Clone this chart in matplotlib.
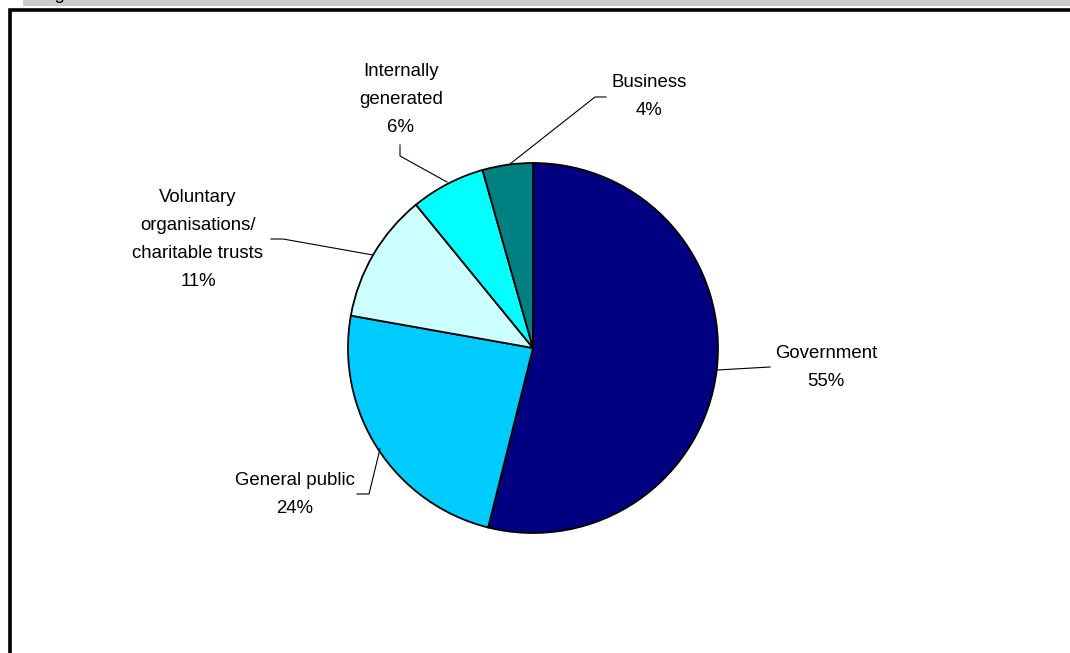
import matplotlib
matplotlib.use("Agg")
from matplotlib import pyplot as plt
from matplotlib.patches import Rectangle

# slice data, clockwise from 12 o'clock
sources = ["Government", "General public", "Voluntary organisations/ charitable trusts",
           "Internally generated", "Business"]
shares = [53.9, 23.9, 11.3, 6.5, 4.4]          # measured slice sizes
pct_labels = ["55%", "24%", "11%", "6%", "4%"]   # percentages as printed
colors = ["#000080", "#00CCFF", "#CCFFFF", "#00FFFF", "#008080"]
# how each label is wrapped in the chart
label_lines = [["Government"], ["General public"],
               ["Voluntary", "organisations/", "charitable trusts"],
               ["Internally", "generated"], ["Business"]]

W, H = 1070, 653
plt.rcParams['font.family'] = ['Liberation Sans', 'DejaVu Sans']
FS = 13.4

fig = plt.figure(figsize=(W / 100, H / 100), dpi=100)
ax = fig.add_axes([0, 0, 1, 1])

def Y(y):
    # pixel row (from top) -> data y
    return H - y

# frame bits: grey strip at top (caption cut off above) and thick black border
ax.add_patch(Rectangle((23, Y(6)), W - 23, 6, facecolor="#CCCCCC", edgecolor="none"))
ax.text(39.5, Y(-1), "Figure", fontsize=FS, va='baseline', ha='left', color='black')
ax.plot([9.5, 9.5, W + 5], [-5, Y(9.5), Y(9.5)], color='black', lw=2.6,
        solid_joinstyle='miter')

ax.pie(shares, colors=colors, startangle=90, counterclock=False,
       center=(533, Y(348)), radius=185, frame=True,
       wedgeprops=dict(edgecolor='black', linewidth=1.3))
ax.set_xlim(0, W)
ax.set_ylim(0, H)
ax.set_aspect('equal')
ax.axis('off')

# label placement: centre x, first baseline (px from top)
label_pos = [(826, 358), (295, 485), (198, 202), (401, 76), (649, 87)]
leaders = [
    [(717, 370), (770, 367)],
    [(380, 449), (369, 494), (357, 494)],
    [(373, 255), (283, 239), (271, 239)],
    [(400, 145), (400, 156), (447, 182)],
    [(510, 164), (595, 97), (606, 97)],
]
step = 28
for parts, pct, (x, y0), pts in zip(label_lines, pct_labels, label_pos, leaders):
    for i, s in enumerate(parts + [pct]):
        ax.text(x, Y(y0 + i * step), s, fontsize=FS, ha='center', va='baseline',
                color='black')
    ax.plot([p[0] for p in pts], [Y(p[1]) for p in pts], color='black', lw=0.8)

fig.savefig("out.png", dpi=100)
